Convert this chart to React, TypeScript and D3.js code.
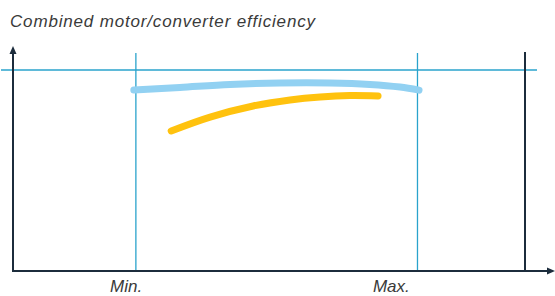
import React from 'react';
import * as d3 from 'd3';

// speed axis: 0..100 (% of range), efficiency axis: 0..100 (%)
const markers = [
  { label: 'Min.', x: 24, labelX: 22.1 },
  { label: 'Max.', x: 79, labelX: 73.9 },
];
const topLineY = 100;

const motorSpeed = [23.6, 32.6, 42.4, 52.1, 61.9, 69.7, 75.6, 79.3];
const motorEff = [90.0, 91.3, 92.8, 93.5, 93.5, 92.8, 91.5, 90.0];

const converterSpeed = [30.9, 38.5, 46.9, 54.1, 60.0, 65.8, 71.3];
const converterEff = [69.7, 76.6, 82.1, 85.1, 86.6, 87.3, 87.1];

const W = 555;
const H = 296;
const axisColor = '#1c2c3c';
const gridColor = '#2aa3cc';
const textColor = '#3a3a3a';

const App: React.FC = () => {
  const x = d3.scaleLinear().domain([0, 100]).range([13, 525]);
  const y = d3.scaleLinear().domain([0, 100]).range([271, 70]);

  const line = d3.line<[number, number]>()
    .x(d => x(d[0]))
    .y(d => y(d[1]))
    .curve(d3.curveCatmullRom.alpha(0.5));

  const motor = motorSpeed.map((s, i) => [s, motorEff[i]] as [number, number]);
  const converter = converterSpeed.map((s, i) => [s, converterEff[i]] as [number, number]);

  const x0 = x(0);
  const y0 = y(0);

  return (
    <svg width={W} height={H} style={{ position: 'absolute', left: 0, top: 0, display: 'block' }}
      fontFamily="'Liberation Sans', Arial, sans-serif">
      <text x={10} y={26.5} fontSize={17} fontStyle="italic" fill={textColor}
        textLength={305} lengthAdjust="spacing">
        Combined motor/converter efficiency
      </text>

      {/* top reference line */}
      <line x1={1} x2={537} y1={y(topLineY)} y2={y(topLineY)} stroke={gridColor} strokeWidth={1.5} />

      {/* min / max markers */}
      {markers.map(m => (
        <g key={m.label}>
          <line x1={x(m.x)} x2={x(m.x)} y1={53} y2={y0} stroke={gridColor} strokeWidth={1.3} />
          <text x={x(m.labelX)} y={291.5} fontSize={17} fontStyle="italic" fill={textColor} textAnchor="middle">
            {m.label}
          </text>
        </g>
      ))}

      {/* right edge */}
      <line x1={x(100)} x2={x(100)} y1={52} y2={y0} stroke={axisColor} strokeWidth={2} />

      {/* axes */}
      <line x1={x0} x2={x0} y1={52} y2={y0 + 1} stroke={axisColor} strokeWidth={2} />
      <path d={`M${x0},46 L${x0 - 3.5},54 L${x0 + 3.5},54 Z`} fill={axisColor} />
      <line x1={x0 - 1} x2={548} y1={y0} y2={y0} stroke={axisColor} strokeWidth={2} />
      <path d={`M555,${y0} L547,${y0 - 3.5} L547,${y0 + 3.5} Z`} fill={axisColor} />

      {/* curves */}
      <path d={line(motor) || ''} fill="none" stroke="#92d1f2" strokeWidth={7} strokeLinecap="round" />
      <path d={line(converter) || ''} fill="none" stroke="#ffc20e" strokeWidth={7} strokeLinecap="round" />
    </svg>
  );
};

export default App;
